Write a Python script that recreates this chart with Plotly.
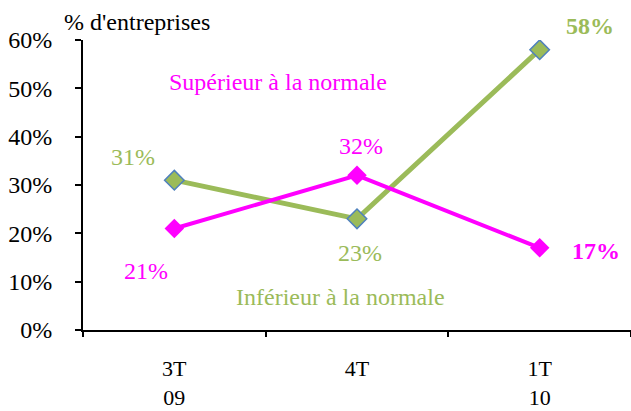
import plotly.graph_objects as go

categories = ["3T<br>09", "4T<br>", "1T<br>10"]
superieur = [0.21, 0.32, 0.17]
inferieur = [0.31, 0.23, 0.58]
y_ticks = [0, 0.1, 0.2, 0.3, 0.4, 0.5, 0.6]

PINK = "#FF00FF"
GREEN = "#9BBB59"
BLUE = "#4F81BD"
FONT = "Liberation Serif, Times New Roman, serif"
FS = 24

fig = go.Figure()
xs = list(range(len(categories)))
fig.add_trace(go.Scatter(x=xs, y=inferieur, mode="lines+markers",
                         line=dict(color=GREEN, width=5),
                         marker=dict(symbol="diamond", size=15, color=GREEN,
                                     line=dict(color=BLUE, width=1.5)),
                         showlegend=False))
fig.add_trace(go.Scatter(x=xs, y=superieur, mode="lines+markers",
                         line=dict(color=PINK, width=4),
                         marker=dict(symbol="diamond", size=15, color=PINK),
                         showlegend=False))

ann = []
sup_off = [(-28, -42, False), (4, 29, False), (56, -3, True)]
inf_off = [(-41, 23, False), (3, -34, False), (50, 24, True)]
for i, (v, (dx, dy, b)) in enumerate(zip(superieur, sup_off)):
    t = f"{round(v*100)}%"
    ann.append(dict(x=i, y=v, xref="x", yref="y", text=f"<b>{t}</b>" if b else t,
                    showarrow=False, xshift=dx, yshift=dy,
                    font=dict(color=PINK, size=FS, family=FONT)))
for i, (v, (dx, dy, b)) in enumerate(zip(inferieur, inf_off)):
    t = f"{round(v*100)}%"
    ann.append(dict(x=i, y=v, xref="x", yref="y", text=f"<b>{t}</b>" if b else t,
                    showarrow=False, xshift=dx, yshift=dy,
                    font=dict(color=GREEN, size=FS, family=FONT)))
ann.append(dict(x=278, y=411 - 82, xref="paper", yref="paper", text="Supérieur à la normale",
                showarrow=False, xanchor="center", yanchor="middle",
                font=dict(color=PINK, size=FS, family=FONT)))
ann.append(dict(x=340, y=411 - 297, xref="paper", yref="paper", text="Inférieur à la normale",
                showarrow=False, xanchor="center", yanchor="middle",
                font=dict(color=GREEN, size=FS, family=FONT)))
ann.append(dict(x=62, y=411 - 22, xref="paper", yref="paper", text="% d'entreprises",
                showarrow=False, xanchor="left", yanchor="middle",
                font=dict(color="black", size=FS, family=FONT)))

W, H = 631, 411
L, R, T, B = 83, 0, 40, 81
pw, ph = W - L - R, H - T - B
for a in ann:
    if a["xref"] == "paper":
        a["x"] = (a["x"] - L) / pw
        a["y"] = (a["y"] - B) / ph

fig.add_trace(go.Scatter(x=[None], y=[None], xaxis="x2", showlegend=False))

fig.update_layout(
    width=W, height=H,
    margin=dict(l=L, r=R, t=T, b=B, autoexpand=False),
    paper_bgcolor="white", plot_bgcolor="white",
    font=dict(family=FONT, size=FS, color="black"),
    annotations=ann,
    xaxis=dict(tickmode="array", tickvals=xs, ticktext=categories,
               range=[-0.5, 2.5], showgrid=False, zeroline=False,
               showline=True, linecolor="black", linewidth=2,
               tickfont=dict(size=22),
               ticks="", ticklabelstandoff=18, automargin=False),
    yaxis=dict(range=[0, 0.6], tickvals=y_ticks, tickformat=".0%",
               showgrid=False, zeroline=False, showline=True,
               linecolor="black", linewidth=2, ticks="outside",
               ticklen=6, tickwidth=2, tickcolor="black", ticklabelstandoff=18,
               automargin=False),
    xaxis2=dict(overlaying="x", anchor="y", range=[-0.5, 2.5],
                tickvals=[-0.5, 0.5, 1.5, 2.5], ticktext=["", "", "", ""],
                ticks="outside", ticklen=6, tickwidth=2, tickcolor="black",
                showgrid=False, zeroline=False, showline=False, side="bottom",
                automargin=False),
)

fig.write_html("out.html", config={"displayModeBar": False},
               post_script="document.body.style.margin='0';")
